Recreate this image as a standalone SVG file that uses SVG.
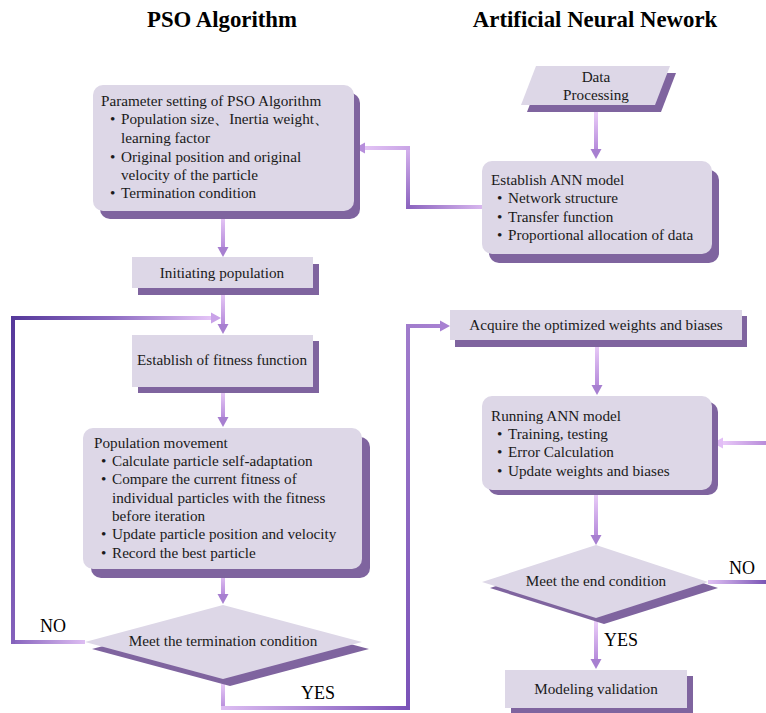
<svg xmlns="http://www.w3.org/2000/svg" width="766" height="713" viewBox="0 0 766 713">
<style>
.title{font-family:"Liberation Serif","Times New Roman",serif;font-weight:bold;font-size:22.8px;fill:#000}
.t{font-family:"Liberation Serif","Times New Roman",serif;font-size:15.2px;fill:#1a1a1a}
.tc{font-family:"Liberation Serif","Times New Roman",serif;font-size:15.2px;fill:#1a1a1a;text-anchor:middle}
.td{font-family:"Liberation Serif","Times New Roman",serif;font-size:15.2px;fill:#1a1a1a;text-anchor:middle}
.lbl{font-family:"Liberation Serif","Times New Roman",serif;font-size:18px;fill:#000}
.box{fill:#DDD7E7}
.sh{fill:#7F649F}
.head{fill:#A77FD0}
</style>
<defs>
<linearGradient id="gv" x1="0" y1="0" x2="0" y2="1"><stop offset="0" stop-color="#EFD3FB"/><stop offset="1" stop-color="#B488DA"/></linearGradient>
<linearGradient id="gvUp" x1="0" y1="1" x2="0" y2="0"><stop offset="0" stop-color="#8A62BE"/><stop offset="1" stop-color="#D8B4F0"/></linearGradient>
<linearGradient id="gAnnBot" x1="1" y1="0" x2="0" y2="0"><stop offset="0" stop-color="#D7B6EE"/><stop offset="1" stop-color="#8A62BE"/></linearGradient>
<linearGradient id="gAnnTop" x1="1" y1="0" x2="0" y2="0"><stop offset="0" stop-color="#C9A4E6"/><stop offset="1" stop-color="#E3C4F5"/></linearGradient>
<linearGradient id="gNoBot" x1="1" y1="0" x2="0" y2="0"><stop offset="0" stop-color="#DDBDF2"/><stop offset="1" stop-color="#8562BC"/></linearGradient>
<linearGradient id="gNoV" x1="0" y1="1" x2="0" y2="0"><stop offset="0" stop-color="#8562BC"/><stop offset="1" stop-color="#55389A"/></linearGradient>
<linearGradient id="gNoTop" x1="0" y1="0" x2="1" y2="0"><stop offset="0" stop-color="#55389A"/><stop offset="0.5" stop-color="#8D6CC2"/><stop offset="1" stop-color="#E6C6F8"/></linearGradient>
<linearGradient id="gYesBot" x1="0" y1="0" x2="1" y2="0"><stop offset="0" stop-color="#DDBDF2"/><stop offset="1" stop-color="#7A52B8"/></linearGradient>
<linearGradient id="gYesV" x1="0" y1="1" x2="0" y2="0"><stop offset="0" stop-color="#7A52B8"/><stop offset="1" stop-color="#A07CCC"/></linearGradient>
<linearGradient id="gYesTop" x1="0" y1="0" x2="1" y2="0"><stop offset="0" stop-color="#A07CCC"/><stop offset="1" stop-color="#A881D2"/></linearGradient>
<linearGradient id="gR1" x1="0" y1="0" x2="1" y2="0"><stop offset="0" stop-color="#EBCBFA"/><stop offset="1" stop-color="#B88CDA"/></linearGradient>
<linearGradient id="gR2" x1="0" y1="0" x2="1" y2="0"><stop offset="0" stop-color="#E1C2F5"/><stop offset="1" stop-color="#7A55B5"/></linearGradient>
</defs>

<text class="title" x="222" y="27" text-anchor="middle">PSO Algorithm</text>
<text class="title" x="595" y="27" text-anchor="middle">Artificial Neural Nework</text>

<g id="connectors">
  <rect x="221" y="211" width="4" height="38" fill="url(#gv)"/><polygon class="head" points="217.5,247 228.5,247 223,257"/>
  <rect x="221" y="288" width="4" height="38" fill="url(#gv)"/><polygon class="head" points="217.5,324 228.5,324 223,334"/>
  <rect x="221" y="387" width="4" height="32" fill="url(#gv)"/><polygon class="head" points="217.5,417 228.5,417 223,427"/>
  <rect x="221" y="569" width="4" height="27" fill="url(#gv)"/><polygon class="head" points="217.5,594 228.5,594 223,604"/>
  <rect x="594" y="108" width="4" height="43" fill="url(#gv)"/><polygon class="head" points="590.5,149 601.5,149 596,159"/>
  <rect x="595" y="340" width="4" height="47" fill="url(#gv)"/><polygon class="head" points="591.5,385 602.5,385 597,395"/>
  <rect x="594" y="490" width="4" height="47" fill="url(#gv)"/><polygon class="head" points="590.5,535 601.5,535 596,545"/>
  <rect x="594" y="618" width="4" height="43" fill="url(#gv)"/><polygon class="head" points="590.5,659 601.5,659 596,669"/>
  <rect x="406" y="205" width="76" height="4" fill="url(#gAnnBot)"/>
  <rect x="406" y="146" width="4" height="63" fill="url(#gvUp)"/>
  <rect x="363" y="146" width="47" height="4" fill="url(#gAnnTop)"/>
  <polygon points="365,142.5 365,153.5 355,148" fill="#B68EDB"/>
  <rect x="11" y="640" width="74" height="4" fill="url(#gNoBot)"/>
  <rect x="11" y="316" width="4" height="328" fill="url(#gNoV)"/>
  <rect x="11" y="316" width="202" height="4" fill="url(#gNoTop)"/>
  <polygon points="211,312.5 211,323.5 221,318" fill="#C9A2E8"/>
  <rect x="221" y="679" width="4" height="31" fill="url(#gv)"/>
  <rect x="221" y="706" width="189" height="4" fill="url(#gYesBot)"/>
  <rect x="406" y="324" width="4" height="386" fill="url(#gYesV)"/>
  <rect x="406" y="324" width="36" height="4" fill="url(#gYesTop)"/>
  <polygon points="440,320.5 440,331.5 450,326" fill="#A881D2"/>
  <rect x="721" y="441" width="45" height="4" fill="url(#gR1)"/>
  <polygon points="723,437.5 723,448.5 713,443" fill="#E2BEF6"/>
  <rect x="708" y="580" width="58" height="4" fill="url(#gR2)"/>
</g>

<g id="param">
  <rect class="sh" x="100" y="93" width="260" height="126" rx="10"/>
  <rect class="box" x="93" y="85" width="261" height="126" rx="10"/>
  <text class="t" x="101" y="106">Parameter setting of PSO Algorithm</text>
  <text class="t" x="110" y="124">•</text><text class="t" x="121" y="124">Population size、Inertia weight、</text>
  <text class="t" x="121" y="143">learning factor</text>
  <text class="t" x="110" y="162">•</text><text class="t" x="121" y="162">Original position and original</text>
  <text class="t" x="121" y="180">velocity of the particle</text>
  <text class="t" x="110" y="198">•</text><text class="t" x="121" y="198">Termination condition</text>
</g>

<g id="data">
  <polygon class="sh" points="542,73 676,73 661,112 527,112"/>
  <polygon class="box" points="536,66 670,66 655,105 521,105"/>
  <text class="tc" x="596" y="82">Data</text>
  <text class="tc" x="596" y="100">Processing</text>
</g>

<g id="ann">
  <rect class="sh" x="489" y="170" width="230" height="93" rx="10"/>
  <rect class="box" x="482" y="161" width="230" height="93" rx="10"/>
  <text class="t" x="491" y="185">Establish ANN model</text>
  <text class="t" x="497" y="203">•</text><text class="t" x="508" y="203">Network structure</text>
  <text class="t" x="497" y="222">•</text><text class="t" x="508" y="222">Transfer function</text>
  <text class="t" x="497" y="240">•</text><text class="t" x="508" y="240">Proportional allocation of data</text>
</g>

<g id="init">
  <rect class="sh" x="138" y="264" width="181" height="31"/>
  <rect class="box" x="132" y="257" width="181" height="31"/>
  <text class="tc" x="222" y="278">Initiating population</text>
</g>

<g id="fitness">
  <rect class="sh" x="138" y="341" width="181" height="52"/>
  <rect class="box" x="132" y="335" width="181" height="52"/>
  <text class="tc" x="222" y="365">Establish of fitness function</text>
</g>

<g id="popmove">
  <rect class="sh" x="91" y="437" width="279" height="141" rx="10"/>
  <rect class="box" x="83" y="428" width="279" height="141" rx="10"/>
  <text class="t" x="94" y="448">Population movement</text>
  <text class="t" x="101" y="466">•</text><text class="t" x="112" y="466">Calculate particle self-adaptation</text>
  <text class="t" x="101" y="484">•</text><text class="t" x="112" y="484">Compare the current fitness of</text>
  <text class="t" x="112" y="503">individual particles with the fitness</text>
  <text class="t" x="112" y="521">before iteration</text>
  <text class="t" x="101" y="539">•</text><text class="t" x="112" y="539">Update particle position and velocity</text>
  <text class="t" x="101" y="558">•</text><text class="t" x="112" y="558">Record the best particle</text>
</g>

<g id="term">
  <polygon class="sh" points="92,649 230,612 369,649 230,686"/>
  <polygon class="box" points="85,642 223,605 362,642 223,679"/>
  <text class="td" x="223" y="646">Meet the termination condition</text>
  <text class="lbl" x="40" y="632">NO</text>
  <text class="lbl" x="301" y="699">YES</text>
</g>

<g id="acquire">
  <rect class="sh" x="455" y="316" width="292" height="31"/>
  <rect class="box" x="450" y="310" width="292" height="30"/>
  <text class="tc" x="596" y="330">Acquire the optimized weights and biases</text>
</g>

<g id="running">
  <rect class="sh" x="488" y="402" width="230" height="93" rx="10"/>
  <rect class="box" x="482" y="396" width="230" height="94" rx="10"/>
  <text class="t" x="491" y="421">Running ANN model</text>
  <text class="t" x="497" y="439">•</text><text class="t" x="508" y="439">Training, testing</text>
  <text class="t" x="497" y="457">•</text><text class="t" x="508" y="457">Error Calculation</text>
  <text class="t" x="497" y="476">•</text><text class="t" x="508" y="476">Update weights and biases</text>
</g>

<g id="endcond">
  <polygon class="sh" points="490,588 604,551 718,588 604,624"/>
  <polygon class="box" points="482,582 596,545 708,582 596,618"/>
  <text class="td" x="596" y="586">Meet the end condition</text>
  <text class="lbl" x="729" y="574">NO</text>
  <text class="lbl" x="604" y="646">YES</text>
</g>

<g id="validation">
  <rect class="sh" x="511" y="676" width="182" height="40"/>
  <rect class="box" x="505" y="670" width="182" height="38"/>
  <text class="tc" x="596" y="694">Modeling validation</text>
</g>
</svg>
